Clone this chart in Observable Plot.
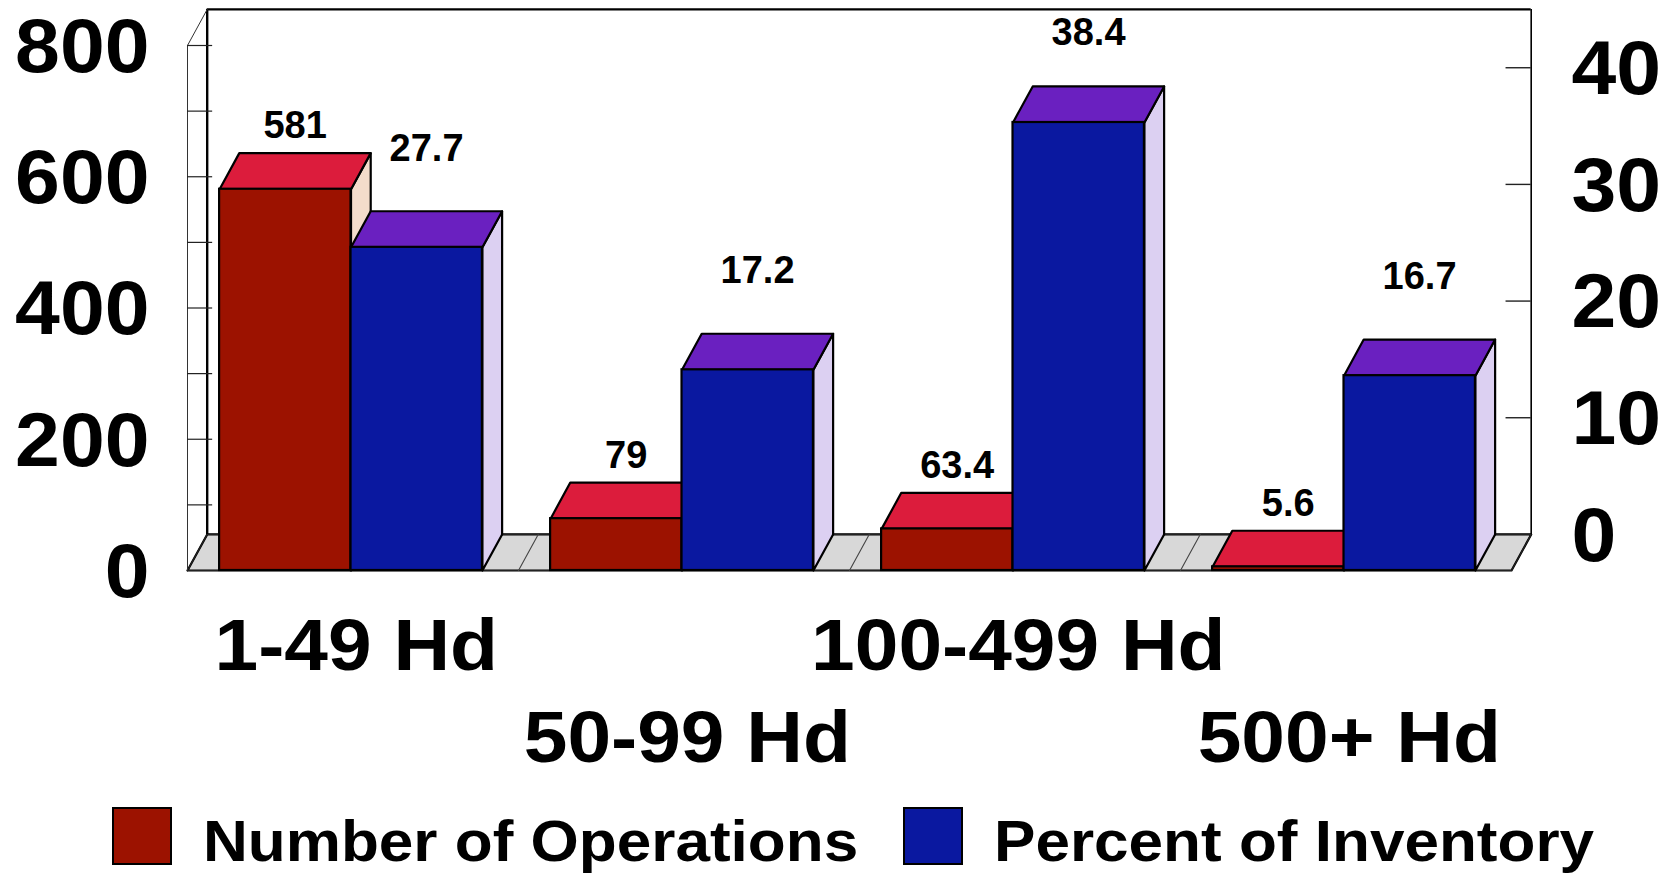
<!DOCTYPE html>
<html>
<head>
<meta charset="utf-8">
<script src="https://cdn.jsdelivr.net/npm/d3@7"></script>
<script src="https://cdn.jsdelivr.net/npm/@observablehq/plot@0.6"></script>
<style>
  html, body { margin: 0; padding: 0; background: #fff; overflow: hidden; }
  #chart { width: 1676px; height: 800px; }
  #chart svg { display: block; }
  #legend { position: relative; width: 1676px; height: 73px; font: bold 58px "Liberation Sans", Arial, sans-serif; color: #000; }
  #legend .swatch { position: absolute; top: 7px; width: 56px; height: 54px; border: 2px solid #000; }
  #legend .name { position: absolute; top: 9px; line-height: 64px; white-space: nowrap; transform-origin: left center; }
</style>
</head>
<body>
<div id="chart"></div>
<div id="legend"></div>
<script>
// Herd-size groups and the two series plotted for each
const herdSizes = ["1-49 Hd", "50-99 Hd", "100-499 Hd", "500+ Hd"];
const operations = [581, 79, 63.4, 5.6];
const inventory = [27.7, 17.2, 38.4, 16.7];
const leftTicks = [0, 200, 400, 600, 800];
const leftMinorTicks = [100, 200, 300, 400, 500, 600, 700, 800];
const rightTicks = [0, 10, 20, 30, 40];

const font = '"Liberation Sans", Arial, sans-serif';
const colors = {
  ops: {front: "#9c1200", top: "#dc1c3c", side: "#f3dccb"},
  inv: {front: "#0a18a0", top: "#6a20c0", side: "#dcd0f2"}
};

// Both series share one drawn height: the percent axis tops out at 45 where the count axis tops out at 800
const percentToCount = 800 / 45;
// Oblique depth of the box and bars, in x-scale and count units
const depthX = 0.0595;
const depthY = 55;
// Each group spans one x unit; its two bars sit side by side
const barStart = 0.097;
const barWidth = 0.397;

const bars = (values, toCount, offset) => values.map((v, i) => ({
  group: i,
  x1: i + barStart + offset,
  x2: i + barStart + offset + barWidth,
  y: v * toCount,
  value: v
}));
const opsBars = bars(operations, 1, 0);
const invBars = bars(inventory, percentToCount, barWidth);

// Closed outlines for the oblique faces of a bar
const polygon = (id, pts) => [...pts, pts[0]].map(([x, y]) => ({id, x, y}));
const topFace = (b) => polygon(b.group, [
  [b.x1, b.y], [b.x2, b.y], [b.x2 + depthX, b.y + depthY], [b.x1 + depthX, b.y + depthY]
]);
const sideFace = (b) => polygon(b.group, [
  [b.x2, 0], [b.x2 + depthX, depthY], [b.x2 + depthX, b.y + depthY], [b.x2, b.y]
]);
const faceMark = (pts, fill) => Plot.line(pts, {
  x: "x", y: "y", z: "id", fill, stroke: "#000", strokeWidth: 2.2, strokeLinejoin: "round"
});

const floor = polygon(0, [[0, 0], [4, 0], [4 + depthX, depthY], [depthX, depthY]]);
const dividers = [1, 2, 3].flatMap((i) => [
  {id: i, x: i, y: 0}, {id: i, x: i + depthX, y: depthY}
]);
const topOfBox = 800 + depthY;

const barMarks = (list, c) => [
  faceMark(list.flatMap(sideFace), c.side),
  faceMark(list.flatMap(topFace), c.top),
  Plot.rect(list, {x1: "x1", x2: "x2", y1: 0, y2: "y", fill: c.front, stroke: "#000", strokeWidth: 2.2})
];

// Value labels float above the bars, held below the top edge of the box
const labelMark = (list, lift) => Plot.text(list, {
  x: (d) => (d.x1 + d.x2) / 2 + depthX / 2,
  y: (d) => Math.min(d.y, 669),
  text: (d) => String(d.value),
  dy: -lift,
  fontSize: 38,
  fontWeight: "bold",
  fontFamily: font,
  fill: "#000"
});

// Group names sit on two staggered rows below the floor
const groupNames = (rows, drop) => Plot.text(rows, {
  x: (d) => herdSizes.indexOf(d) + 0.51,
  y: 0,
  text: (d) => d,
  dy: drop,
  fontSize: 72,
  fontWeight: "bold",
  fontFamily: font,
  fill: "#000"
});

const axisStyle = {
  tickSize: 0, label: null, fontSize: 76, fontWeight: "bold", fontFamily: font, fill: "#000", dy: 2
};

const chart = Plot.plot({
  width: 1676,
  height: 800,
  marginLeft: 187,
  marginRight: 165,
  marginTop: 45,
  marginBottom: 230,
  style: {background: "#fff", fontFamily: font},
  x: {domain: [0, 4], axis: null},
  y: {domain: [0, 800], axis: null},
  marks: [
    // Floor
    faceMark(floor, "#d8d8d8"),
    Plot.line(floor, {x: "x", y: "y", z: "id", stroke: "#222", strokeWidth: 1.2}),
    Plot.line(dividers, {x: "x", y: "y", z: "id", stroke: "#444", strokeWidth: 1.1}),

    // Walls of the box
    Plot.ruleX([depthX], {y1: depthY, y2: topOfBox, stroke: "#000", strokeWidth: 2.4}),
    Plot.ruleY([topOfBox], {x1: depthX, x2: 4 + depthX, stroke: "#000", strokeWidth: 2.4}),
    Plot.ruleX([4 + depthX], {y1: depthY, y2: topOfBox, stroke: "#000", strokeWidth: 1.6}),
    Plot.ruleX([0], {y1: 0, y2: 800, stroke: "#333", strokeWidth: 1}),
    Plot.line([{x: 0, y: 800}, {x: depthX, y: topOfBox}], {x: "x", y: "y", stroke: "#333", strokeWidth: 1}),
    Plot.ruleY(leftMinorTicks, {x1: 0, x2: 0.076, stroke: "#222", strokeWidth: 1.2}),
    Plot.ruleY(rightTicks.filter((t) => t > 0).map((t) => t * percentToCount + depthY), {
      x1: 4 + depthX - 0.076, x2: 4 + depthX, stroke: "#222", strokeWidth: 1.4
    }),

    // Bars
    ...barMarks(opsBars, colors.ops),
    ...barMarks(invBars, colors.inv),

    // Value labels
    labelMark(opsBars, 63),
    labelMark(invBars, 99),

    // Axes
    Plot.axisY(leftTicks, {...axisStyle, anchor: "left", tickPadding: 38}),
    Plot.axisY(rightTicks.map((t) => t * percentToCount + depthY), {
      ...axisStyle,
      anchor: "right",
      tickPadding: 60,
      tickFormat: (d) => String(Math.round((d - depthY) / percentToCount))
    }),

    groupNames(herdSizes.filter((d, i) => i % 2 === 0), 76),
    groupNames(herdSizes.filter((d, i) => i % 2 === 1), 168)
  ]
});

document.getElementById("chart").append(chart);

// The large lettering runs wider than the regular face: stretch it while keeping real text
d3.select(chart).selectAll("text").each(function () {
  const size = parseFloat(getComputedStyle(this).fontSize);
  const stretch = size >= 76 ? 1.06 : size >= 72 ? 1.09 : 1;
  this.setAttribute("textLength", this.getComputedTextLength() * stretch);
  this.setAttribute("lengthAdjust", "spacingAndGlyphs");
});

// Legend below the plot
const legend = d3.select("#legend");
[
  {name: "Number of Operations", color: colors.ops.front, swatch: 112, text: 203},
  {name: "Percent of Inventory", color: colors.inv.front, swatch: 903, text: 994}
].forEach((d) => {
  legend.append("div").attr("class", "swatch").style("left", d.swatch + "px").style("background", d.color);
  legend.append("div").attr("class", "name").style("left", d.text + "px")
    .style("transform", "scaleX(1.07)").text(d.name);
});
</script>
</body>
</html>
